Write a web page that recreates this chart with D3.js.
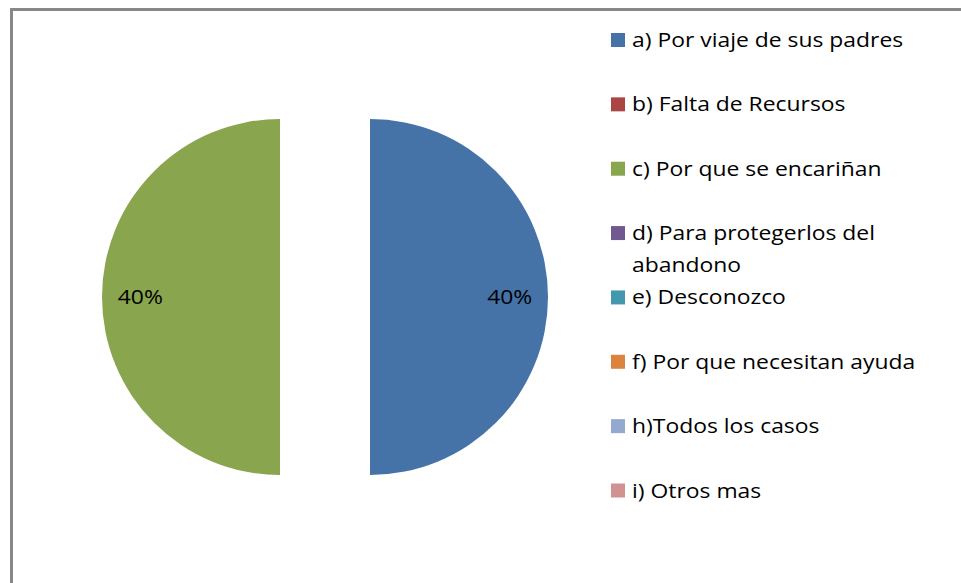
<!DOCTYPE html>
<html lang="es">
<head>
<meta charset="utf-8">
<title>Pie</title>
<script src="https://d3js.org/d3.v7.min.js"></script>
<style>
  body { margin: 0; background: #fff; }
  svg { display: block; }
</style>
</head>
<body>
<script>
// datos
var categories = [
  "a) Por viaje de sus padres",
  "b) Falta de Recursos",
  "c) Por que se encariñan",
  "d) Para protegerlos del abandono",
  "e) Desconozco",
  "f) Por que necesitan ayuda",
  "h)Todos los casos",
  "i) Otros mas"
];
var values = [0.4, 0, 0.4, 0, 0, 0, 0, 0];
var colors = ["#4572A7", "#AA4643", "#89A54E", "#71588F", "#4198AF", "#DB843D", "#93A9CF", "#D19392"];

var width = 961, height = 583;
var stretch = 1.145; // el texto original sale algo ensanchado

var svg = d3.select("body").append("svg")
    .attr("width", width)
    .attr("height", height);

// marco del grafico
svg.append("rect")
    .attr("x", 11.5).attr("y", 9.5)
    .attr("width", 1000).attr("height", 1000)
    .attr("fill", "#fff")
    .attr("stroke", "#888")
    .attr("stroke-width", 3);

var cx = 325, cy = 297, radius = 178, explode = 45;

var pie = d3.pie().sort(null).value(function(d) { return d; });
var arc = d3.arc().innerRadius(0).outerRadius(radius);
var arcs = pie(values);

var color = d3.scaleOrdinal().domain(d3.range(categories.length)).range(colors);

var g = svg.append("g").attr("transform", "translate(" + cx + "," + cy + ")");

function shift(d, dist) {
  var mid = (d.startAngle + d.endAngle) / 2;
  return [Math.sin(mid) * dist, -Math.cos(mid) * dist];
}

var slices = g.selectAll("g.slice")
    .data(arcs.filter(function(d) { return d.value > 0; }))
    .enter().append("g")
    .attr("class", "slice")
    .attr("transform", function(d) { return "translate(" + shift(d, explode) + ")"; });

slices.append("path")
    .attr("d", arc)
    .attr("fill", function(d) { return color(d.index); });

slices.append("text")
    .attr("transform", function(d) {
      var p = shift(d, radius * 0.785);
      return "translate(" + p + ") scale(" + stretch + ",1)";
    })
    .attr("text-anchor", "middle")
    .attr("dy", "0.35em")
    .style("font-family", "'Open Sans', sans-serif")
    .style("font-size", "20px")
    .attr("fill", "#000")
    .text(function(d) { return d3.format(".0%")(d.value); });

// leyenda
var legend = svg.append("g").attr("class", "legend");
var rowY = d3.scaleLinear().domain([0, categories.length - 1]).range([40, 490.5]);

var items = legend.selectAll("g")
    .data(categories)
    .enter().append("g")
    .attr("transform", function(d, i) { return "translate(611," + rowY(i) + ")"; });

items.append("rect")
    .attr("x", 0).attr("y", -7)
    .attr("width", 14).attr("height", 14)
    .attr("fill", function(d, i) { return color(i); });

items.append("text")
    .attr("transform", "translate(21,0) scale(" + stretch + ",1)")
    .style("font-family", "'Open Sans', sans-serif")
    .style("font-size", "20px")
    .attr("fill", "#000")
    .each(function(d) {
      var t = d3.select(this);
      var words = d.split(" "), lines = [], line = [];
      t.text("");
      var probe = t.append("tspan");
      words.forEach(function(w) {
        probe.text(line.concat(w).join(" "));
        if (probe.node().getComputedTextLength() > 260 && line.length) {
          lines.push(line.join(" "));
          line = [w];
        } else {
          line.push(w);
        }
      });
      lines.push(line.join(" "));
      probe.remove();
      lines.forEach(function(l, k) {
        t.append("tspan").attr("x", 0).attr("y", k * 32).attr("dy", "0.35em").text(l);
      });
    });
</script>
</body>
</html>
